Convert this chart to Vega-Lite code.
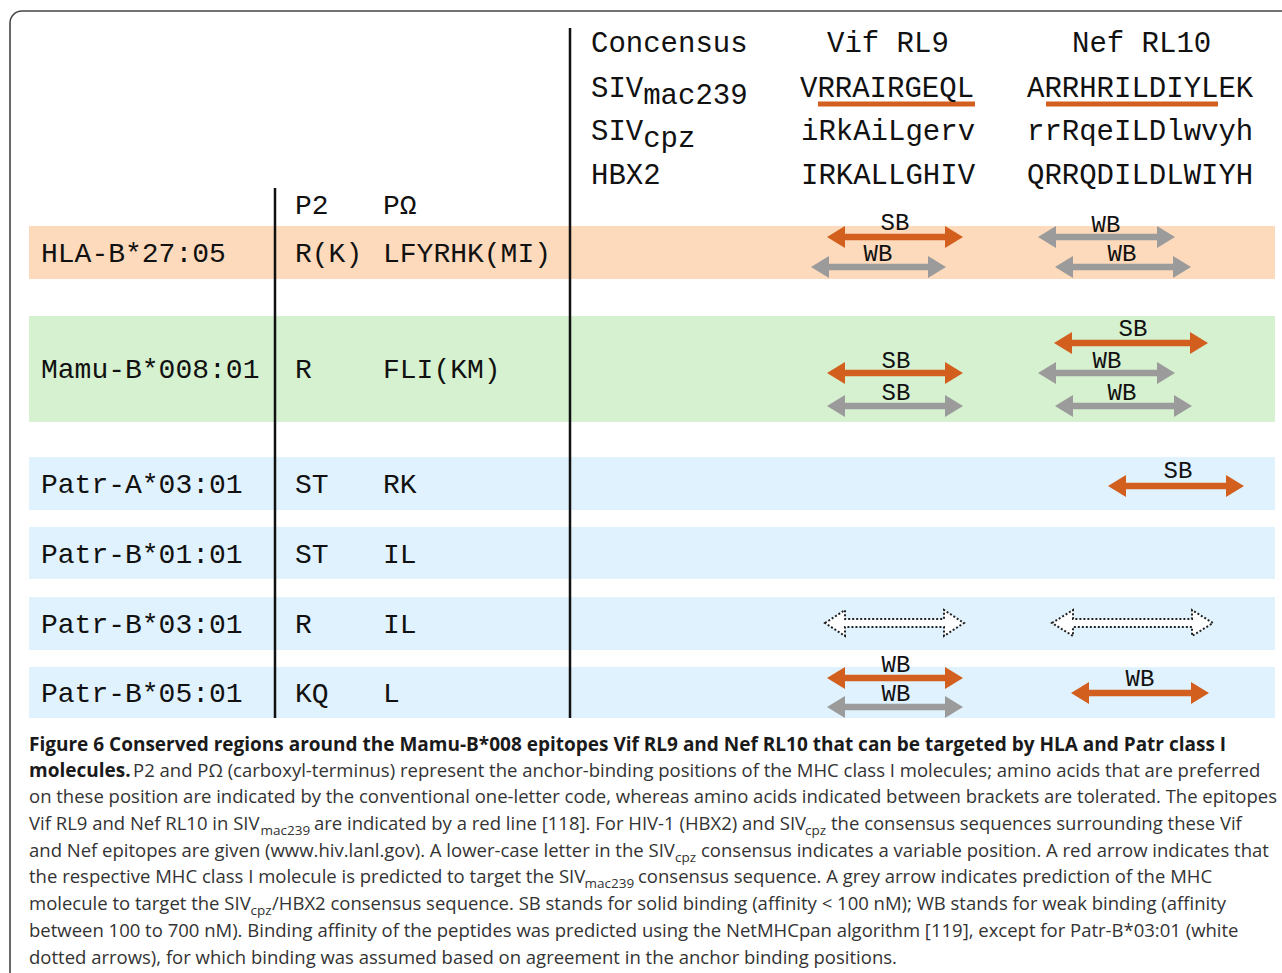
{
  "$schema": "https://vega.github.io/schema/vega-lite/v6.json",
  "width": 1282,
  "height": 973,
  "autosize": {"type": "none"},
  "padding": 0,
  "background": "white",
  "config": {"view": {"stroke": null}},
  "datasets": {
    "frame": [{"x": 10, "y": 11, "x2": 1400, "y2": 1100}],
    "bands": [
      {"row": "HLA-B*27:05", "group": "hla", "x": 29, "x2": 1275, "y": 226, "y2": 279},
      {"row": "Mamu-B*008:01", "group": "mamu", "x": 29, "x2": 1275, "y": 316, "y2": 422},
      {"row": "Patr-A*03:01", "group": "patr", "x": 29, "x2": 1275, "y": 457, "y2": 510},
      {"row": "Patr-B*01:01", "group": "patr", "x": 29, "x2": 1275, "y": 527, "y2": 579},
      {"row": "Patr-B*03:01", "group": "patr", "x": 29, "x2": 1275, "y": 597, "y2": 650},
      {"row": "Patr-B*05:01", "group": "patr", "x": 29, "x2": 1275, "y": 667, "y2": 718}
    ],
    "vlines": [
      {"x": 275, "y": 188, "y2": 718},
      {"x": 570, "y": 28, "y2": 718}
    ],
    "underlines": [
      {"epitope": "Vif RL9", "x": 818, "x2": 975, "y": 104},
      {"epitope": "Nef RL10", "x": 1046, "x2": 1218, "y": 104}
    ],
    "toptext": [
      {"x": 591, "y": 52, "t": "Concensus"},
      {"x": 827, "y": 52, "t": "Vif RL9"},
      {"x": 1072, "y": 52, "t": "Nef RL10"},
      {"x": 591, "y": 97, "t": "SIV"},
      {"x": 643.2, "y": 104, "t": "mac239"},
      {"x": 800, "y": 97, "t": "VRRAIRGEQL"},
      {"x": 1027, "y": 97, "t": "ARRHRILDIYLEK"},
      {"x": 591, "y": 140, "t": "SIV"},
      {"x": 643.2, "y": 147, "t": "cpz"},
      {"x": 801, "y": 140, "t": "iRkAiLgerv"},
      {"x": 1027, "y": 140, "t": "rrRqeILDlwvyh"},
      {"x": 591, "y": 184, "t": "HBX2"},
      {"x": 801, "y": 184, "t": "IRKALLGHIV"},
      {"x": 1027, "y": 184, "t": "QRRQDILDLWIYH"}
    ],
    "lefttext": [
      {"x": 295, "y": 214, "t": "P2"},
      {"x": 383, "y": 214, "t": "PΩ"},
      {"x": 41, "y": 262, "t": "HLA-B*27:05"},
      {"x": 295, "y": 262, "t": "R(K)"},
      {"x": 383, "y": 262, "t": "LFYRHK(MI)"},
      {"x": 41, "y": 378, "t": "Mamu-B*008:01"},
      {"x": 295, "y": 378, "t": "R"},
      {"x": 383, "y": 378, "t": "FLI(KM)"},
      {"x": 41, "y": 493, "t": "Patr-A*03:01"},
      {"x": 295, "y": 493, "t": "ST"},
      {"x": 383, "y": 493, "t": "RK"},
      {"x": 41, "y": 563, "t": "Patr-B*01:01"},
      {"x": 295, "y": 563, "t": "ST"},
      {"x": 383, "y": 563, "t": "IL"},
      {"x": 41, "y": 633, "t": "Patr-B*03:01"},
      {"x": 295, "y": 633, "t": "R"},
      {"x": 383, "y": 633, "t": "IL"},
      {"x": 41, "y": 702, "t": "Patr-B*05:01"},
      {"x": 295, "y": 702, "t": "KQ"},
      {"x": 383, "y": 702, "t": "L"}
    ],
    "arrows": [
      {"row": "HLA-B*27:05", "target": "SIVmac239", "x1": 827, "x2": 963, "y": 237},
      {"row": "HLA-B*27:05", "target": "SIVcpz/HBX2", "x1": 811, "x2": 946, "y": 267},
      {"row": "HLA-B*27:05", "target": "SIVcpz/HBX2", "x1": 1038, "x2": 1175, "y": 237},
      {"row": "HLA-B*27:05", "target": "SIVcpz/HBX2", "x1": 1055, "x2": 1191, "y": 267},
      {"row": "Mamu-B*008:01", "target": "SIVmac239", "x1": 1054, "x2": 1208, "y": 343},
      {"row": "Mamu-B*008:01", "target": "SIVcpz/HBX2", "x1": 1038, "x2": 1175, "y": 373},
      {"row": "Mamu-B*008:01", "target": "SIVcpz/HBX2", "x1": 1055, "x2": 1192, "y": 406},
      {"row": "Mamu-B*008:01", "target": "SIVmac239", "x1": 827, "x2": 963, "y": 373},
      {"row": "Mamu-B*008:01", "target": "SIVcpz/HBX2", "x1": 827, "x2": 963, "y": 406},
      {"row": "Patr-A*03:01", "target": "SIVmac239", "x1": 1108, "x2": 1244, "y": 486},
      {"row": "Patr-B*05:01", "target": "SIVmac239", "x1": 827, "x2": 963, "y": 678},
      {"row": "Patr-B*05:01", "target": "SIVcpz/HBX2", "x1": 827, "x2": 963, "y": 707},
      {"row": "Patr-B*05:01", "target": "SIVmac239", "x1": 1071, "x2": 1209, "y": 693}
    ],
    "labels": [
      {"x": 895, "y": 230, "t": "SB"},
      {"x": 878, "y": 261, "t": "WB"},
      {"x": 1106, "y": 232, "t": "WB"},
      {"x": 1122, "y": 261, "t": "WB"},
      {"x": 1133, "y": 336, "t": "SB"},
      {"x": 1107, "y": 368, "t": "WB"},
      {"x": 1122, "y": 400, "t": "WB"},
      {"x": 896, "y": 368, "t": "SB"},
      {"x": 896, "y": 400, "t": "SB"},
      {"x": 1178, "y": 478, "t": "SB"},
      {"x": 896, "y": 672, "t": "WB"},
      {"x": 896, "y": 701, "t": "WB"},
      {"x": 1140, "y": 686, "t": "WB"}
    ],
    "dotted": [
      {"row": "Patr-B*03:01", "epitope": "Vif RL9", "x": 894.5, "y": 623},
      {"row": "Patr-B*03:01", "epitope": "Nef RL10", "x": 1132.5, "y": 623}
    ],
    "caption": [
      {"s": "bold", "x": 29, "y": 751, "t": "Figure 6 Conserved regions around the Mamu-B*008 epitopes Vif RL9 and Nef RL10 that can be targeted by HLA and Patr class I"},
      {"s": "bold", "x": 29, "y": 777, "t": "molecules."},
      {"s": "reg", "x": 133, "y": 777, "t": "P2 and PΩ (carboxyl-terminus) represent the anchor-binding positions of the MHC class I molecules; amino acids that are preferred"},
      {"s": "reg", "x": 29, "y": 803, "t": "on these position are indicated by the conventional one-letter code, whereas amino acids indicated between brackets are tolerated. The epitopes"},
      {"s": "reg", "x": 29, "y": 830, "t": "Vif RL9 and Nef RL10 in SIV"},
      {"s": "sub", "x": 260.5, "y": 835, "t": "mac239"},
      {"s": "reg", "x": 314, "y": 830, "t": "are indicated by a red line [118]. For HIV-1 (HBX2) and SIV"},
      {"s": "sub", "x": 805, "y": 835, "t": "cpz"},
      {"s": "reg", "x": 831, "y": 830, "t": "the consensus sequences surrounding these Vif"},
      {"s": "reg", "x": 29, "y": 857, "t": "and Nef epitopes are given (www.hiv.lanl.gov). A lower-case letter in the SIV"},
      {"s": "sub", "x": 675, "y": 862, "t": "cpz"},
      {"s": "reg", "x": 701, "y": 857, "t": "consensus indicates a variable position. A red arrow indicates that"},
      {"s": "reg", "x": 29, "y": 883, "t": "the respective MHC class I molecule is predicted to target the SIV"},
      {"s": "sub", "x": 584.5, "y": 888, "t": "mac239"},
      {"s": "reg", "x": 638, "y": 883, "t": "consensus sequence. A grey arrow indicates prediction of the MHC"},
      {"s": "reg", "x": 29, "y": 910, "t": "molecule to target the SIV"},
      {"s": "sub", "x": 250.5, "y": 915, "t": "cpz"},
      {"s": "reg", "x": 272, "y": 910, "t": "/HBX2 consensus sequence. SB stands for solid binding (affinity < 100 nM); WB stands for weak binding (affinity"},
      {"s": "reg", "x": 29, "y": 937, "t": "between 100 to 700 nM). Binding affinity of the peptides was predicted using the NetMHCpan algorithm [119], except for Patr-B*03:01 (white"},
      {"s": "reg", "x": 29, "y": 964, "t": "dotted arrows), for which binding was assumed based on agreement in the anchor binding positions."}
    ]
  },
  "encoding": {
    "x": {"field": "x", "type": "quantitative", "scale": {"domain": [0, 1282], "nice": false, "zero": false}, "axis": null},
    "y": {"field": "y", "type": "quantitative", "scale": {"domain": [0, 973], "nice": false, "zero": false, "reverse": true}, "axis": null}
  },
  "layer": [
    {
      "data": {"name": "frame"},
      "mark": {"type": "rect", "fill": null, "fillOpacity": 0, "stroke": "#444444", "strokeWidth": 1.6, "cornerRadius": 12, "clip": true},
      "encoding": {"x2": {"field": "x2"}, "y2": {"field": "y2"}}
    },
    {
      "data": {"name": "bands"},
      "mark": {"type": "rect"},
      "encoding": {
        "x2": {"field": "x2"},
        "y2": {"field": "y2"},
        "fill": {"field": "group", "type": "nominal", "scale": {"domain": ["hla", "mamu", "patr"], "range": ["#fddabb", "#d6f1cf", "#e0f2fd"]}, "legend": null}
      }
    },
    {
      "data": {"name": "vlines"},
      "mark": {"type": "rule", "color": "#111111", "strokeWidth": 2.5},
      "encoding": {"y2": {"field": "y2"}}
    },
    {
      "data": {"name": "underlines"},
      "mark": {"type": "rule", "color": "#d25f1e", "strokeWidth": 5},
      "encoding": {"x2": {"field": "x2"}}
    },
    {
      "data": {"name": "toptext"},
      "mark": {"type": "text", "font": "Liberation Mono", "fontSize": 29, "align": "left", "baseline": "alphabetic", "color": "#111111"},
      "encoding": {"text": {"field": "t"}}
    },
    {
      "data": {"name": "lefttext"},
      "mark": {"type": "text", "font": "Liberation Mono", "fontSize": 28, "align": "left", "baseline": "alphabetic", "color": "#111111"},
      "encoding": {"text": {"field": "t"}}
    },
    {
      "data": {"name": "arrows"},
      "mark": {"type": "rule", "strokeWidth": 6.5, "strokeCap": "butt", "xOffset": 6, "x2Offset": -6},
      "encoding": {
        "x": {"field": "x1", "type": "quantitative"},
        "x2": {"field": "x2"},
        "color": {"field": "target", "type": "nominal", "scale": {"domain": ["SIVmac239", "SIVcpz/HBX2"], "range": ["#d25f1e", "#9b9b9b"]}, "legend": null}
      }
    },
    {
      "data": {"name": "arrows"},
      "mark": {"type": "point", "shape": "M 0 0 L 1.636 -1 L 1.636 1 Z", "size": 484, "filled": true, "opacity": 1, "strokeWidth": 0},
      "encoding": {
        "x": {"field": "x1", "type": "quantitative"},
        "color": {"field": "target", "type": "nominal", "legend": null}
      }
    },
    {
      "data": {"name": "arrows"},
      "mark": {"type": "point", "shape": "M 0 0 L -1.636 -1 L -1.636 1 Z", "size": 484, "filled": true, "opacity": 1, "strokeWidth": 0},
      "encoding": {
        "x": {"field": "x2", "type": "quantitative"},
        "color": {"field": "target", "type": "nominal", "legend": null}
      }
    },
    {
      "data": {"name": "labels"},
      "mark": {"type": "text", "font": "Liberation Mono", "fontSize": 24, "align": "center", "baseline": "alphabetic", "color": "#111111"},
      "encoding": {"text": {"field": "t"}}
    },
    {
      "data": {"name": "dotted"},
      "transform": [{"filter": "datum.epitope === 'Vif RL9'"}],
      "mark": {"type": "point", "shape": "M -1 0 L -0.712 -0.187 L -0.712 -0.058 L 0.712 -0.058 L 0.712 -0.187 L 1 0 L 0.712 0.187 L 0.712 0.058 L -0.712 0.058 L -0.712 0.187 Z", "size": 19321, "filled": false, "fill": "white", "fillOpacity": 1, "stroke": "#222222", "strokeWidth": 2, "strokeDash": [2, 2], "opacity": 1}
    },
    {
      "data": {"name": "dotted"},
      "transform": [{"filter": "datum.epitope === 'Nef RL10'"}],
      "mark": {"type": "point", "shape": "M -1 0 L -0.739 -0.161 L -0.739 -0.05 L 0.739 -0.05 L 0.739 -0.161 L 1 0 L 0.739 0.161 L 0.739 0.05 L -0.739 0.05 L -0.739 0.161 Z", "size": 25921, "filled": false, "fill": "white", "fillOpacity": 1, "stroke": "#222222", "strokeWidth": 2, "strokeDash": [2, 2], "opacity": 1}
    },
    {
      "data": {"name": "caption"},
      "transform": [{"filter": "datum.s === 'bold'"}],
      "mark": {"type": "text", "font": "Open Sans", "fontSize": 19, "fontWeight": "bold", "align": "left", "baseline": "alphabetic", "color": "#1a1a1a"},
      "encoding": {"text": {"field": "t"}}
    },
    {
      "data": {"name": "caption"},
      "transform": [{"filter": "datum.s === 'reg'"}],
      "mark": {"type": "text", "font": "Open Sans", "fontSize": 18.5, "align": "left", "baseline": "alphabetic", "color": "#333333"},
      "encoding": {"text": {"field": "t"}}
    },
    {
      "data": {"name": "caption"},
      "transform": [{"filter": "datum.s === 'sub'"}],
      "mark": {"type": "text", "font": "Open Sans", "fontSize": 13.5, "align": "left", "baseline": "alphabetic", "color": "#333333"},
      "encoding": {"text": {"field": "t"}}
    }
  ]
}
